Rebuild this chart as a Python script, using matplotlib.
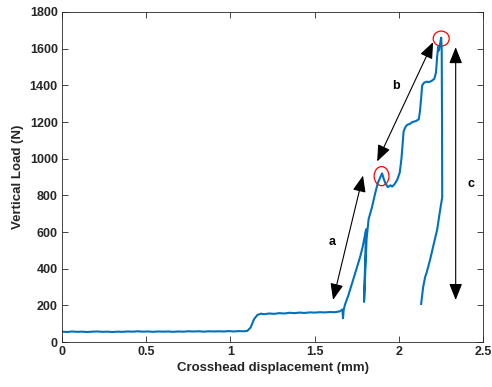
import matplotlib
matplotlib.use("Agg")
import matplotlib.pyplot as plt
from matplotlib.patches import Ellipse

plt.rcParams['font.family'] = ['Liberation Sans', 'DejaVu Sans']
plt.rcParams['font.weight'] = 'bold'

# displacement (mm) and load (N)
disp = [0.00, 0.03, 0.06, 0.09, 0.12, 0.15, 0.18, 0.21, 0.24, 0.27, 0.30, 0.33,
        0.36, 0.39, 0.42, 0.45, 0.48, 0.51, 0.54, 0.57, 0.60, 0.63, 0.66, 0.69,
        0.72, 0.75, 0.78, 0.81, 0.84, 0.87, 0.90, 0.93, 0.96, 0.99, 1.02, 1.05,
        1.08, 1.10,
        1.12, 1.14, 1.16, 1.18,
        1.20, 1.23, 1.26, 1.29, 1.32, 1.35, 1.38, 1.41, 1.44, 1.47, 1.50, 1.53,
        1.56, 1.59, 1.62, 1.65, 1.665,
        1.668, 1.672,
        1.68, 1.70, 1.71, 1.73, 1.75, 1.77, 1.785, 1.80, 1.805,
        1.793, 1.808,
        1.82, 1.84, 1.86, 1.875, 1.89, 1.90, 1.91, 1.92, 1.935, 1.95, 1.96, 1.975,
        1.99, 2.005, 2.015, 2.022, 2.028, 2.04, 2.05, 2.065, 2.08, 2.10, 2.118,
        2.125, 2.132, 2.138, 2.15, 2.165, 2.18, 2.195, 2.21, 2.22, 2.227, 2.233,
        2.238, 2.245, 2.251, 2.254, 2.256, 2.257,
        2.245, 2.227, 2.203, 2.185, 2.165, 2.156, 2.144, 2.138, 2.132]
load = [57, 55, 58, 56, 57, 55, 57, 58, 56, 57, 55, 57,
        56, 58, 57, 59, 57, 58, 56, 58, 57, 58, 56, 58,
        57, 59, 58, 59, 57, 59, 58, 59, 58, 60, 58, 60,
        59, 61,
        80, 125, 148, 155,
        152, 156, 154, 158, 156, 160, 158, 161, 159, 162, 161, 163,
        162, 164, 163, 168, 178,
        130, 175,
        205, 255, 285, 345, 405, 465, 520, 590, 615,
        219, 560,
        670, 735, 815, 868, 900, 920, 890, 865, 845, 855, 848, 862,
        885, 925, 1000, 1080, 1150, 1175, 1185, 1190, 1200, 1205, 1215,
        1260, 1330, 1400, 1415, 1420, 1418, 1425, 1435, 1470, 1555, 1610,
        1590, 1630, 1660, 1600, 1200, 790,
        722, 613, 520, 449, 380, 356, 301, 255, 208]

fig = plt.figure(figsize=(4.92, 3.87), dpi=100)
ax = fig.add_axes([0.126, 0.116, 0.856, 0.853])

ax.plot(disp, load, color='#0072BD', linewidth=1.5)

# arrows a, b, c
arr = dict(arrowstyle='<|-|>,head_length=1.0,head_width=0.4', color='black',
           linewidth=0.8, shrinkA=0, shrinkB=0)
ax.annotate('', xy=(1.787, 908), xytext=(1.609, 230), arrowprops=arr)
ax.annotate('', xy=(2.203, 1636), xytext=(1.871, 985), arrowprops=arr)
ax.annotate('', xy=(2.337, 1608), xytext=(2.337, 230), arrowprops=arr)
ax.text(1.603, 547, 'a', fontsize=9, fontweight='bold', ha='center', va='center')
ax.text(1.983, 1395, 'b', fontsize=9, fontweight='bold', ha='center', va='center')
ax.text(2.43, 860, 'c', fontsize=9, fontweight='bold', ha='center', va='center')

# red circles on the peaks
ax.add_patch(Ellipse((1.897, 905), 0.088, 104, fill=False, edgecolor='red', linewidth=0.9))
ax.add_patch(Ellipse((2.251, 1655), 0.095, 82, fill=False, edgecolor='red', linewidth=0.9))

ax.set_xlim(0, 2.5)
ax.set_ylim(0, 1800)
ax.set_xticks([0, 0.5, 1, 1.5, 2, 2.5])
ax.set_xticklabels(['0', '0.5', '1', '1.5', '2', '2.5'])
ax.set_yticks(range(0, 1801, 200))
ax.tick_params(direction='in', top=True, right=True, length=4, width=0.6,
               labelsize=9, colors='#262626', pad=3)
for s in ax.spines.values():
    s.set_linewidth(0.6)
    s.set_color('#262626')
ax.set_xlabel('Crosshead displacement (mm)', fontsize=9.5, fontweight='bold', color='#262626', labelpad=3)
ax.set_ylabel('Vertical Load (N)', fontsize=9.5, fontweight='bold', color='#262626', labelpad=4)

fig.savefig('out.png', dpi=100)
